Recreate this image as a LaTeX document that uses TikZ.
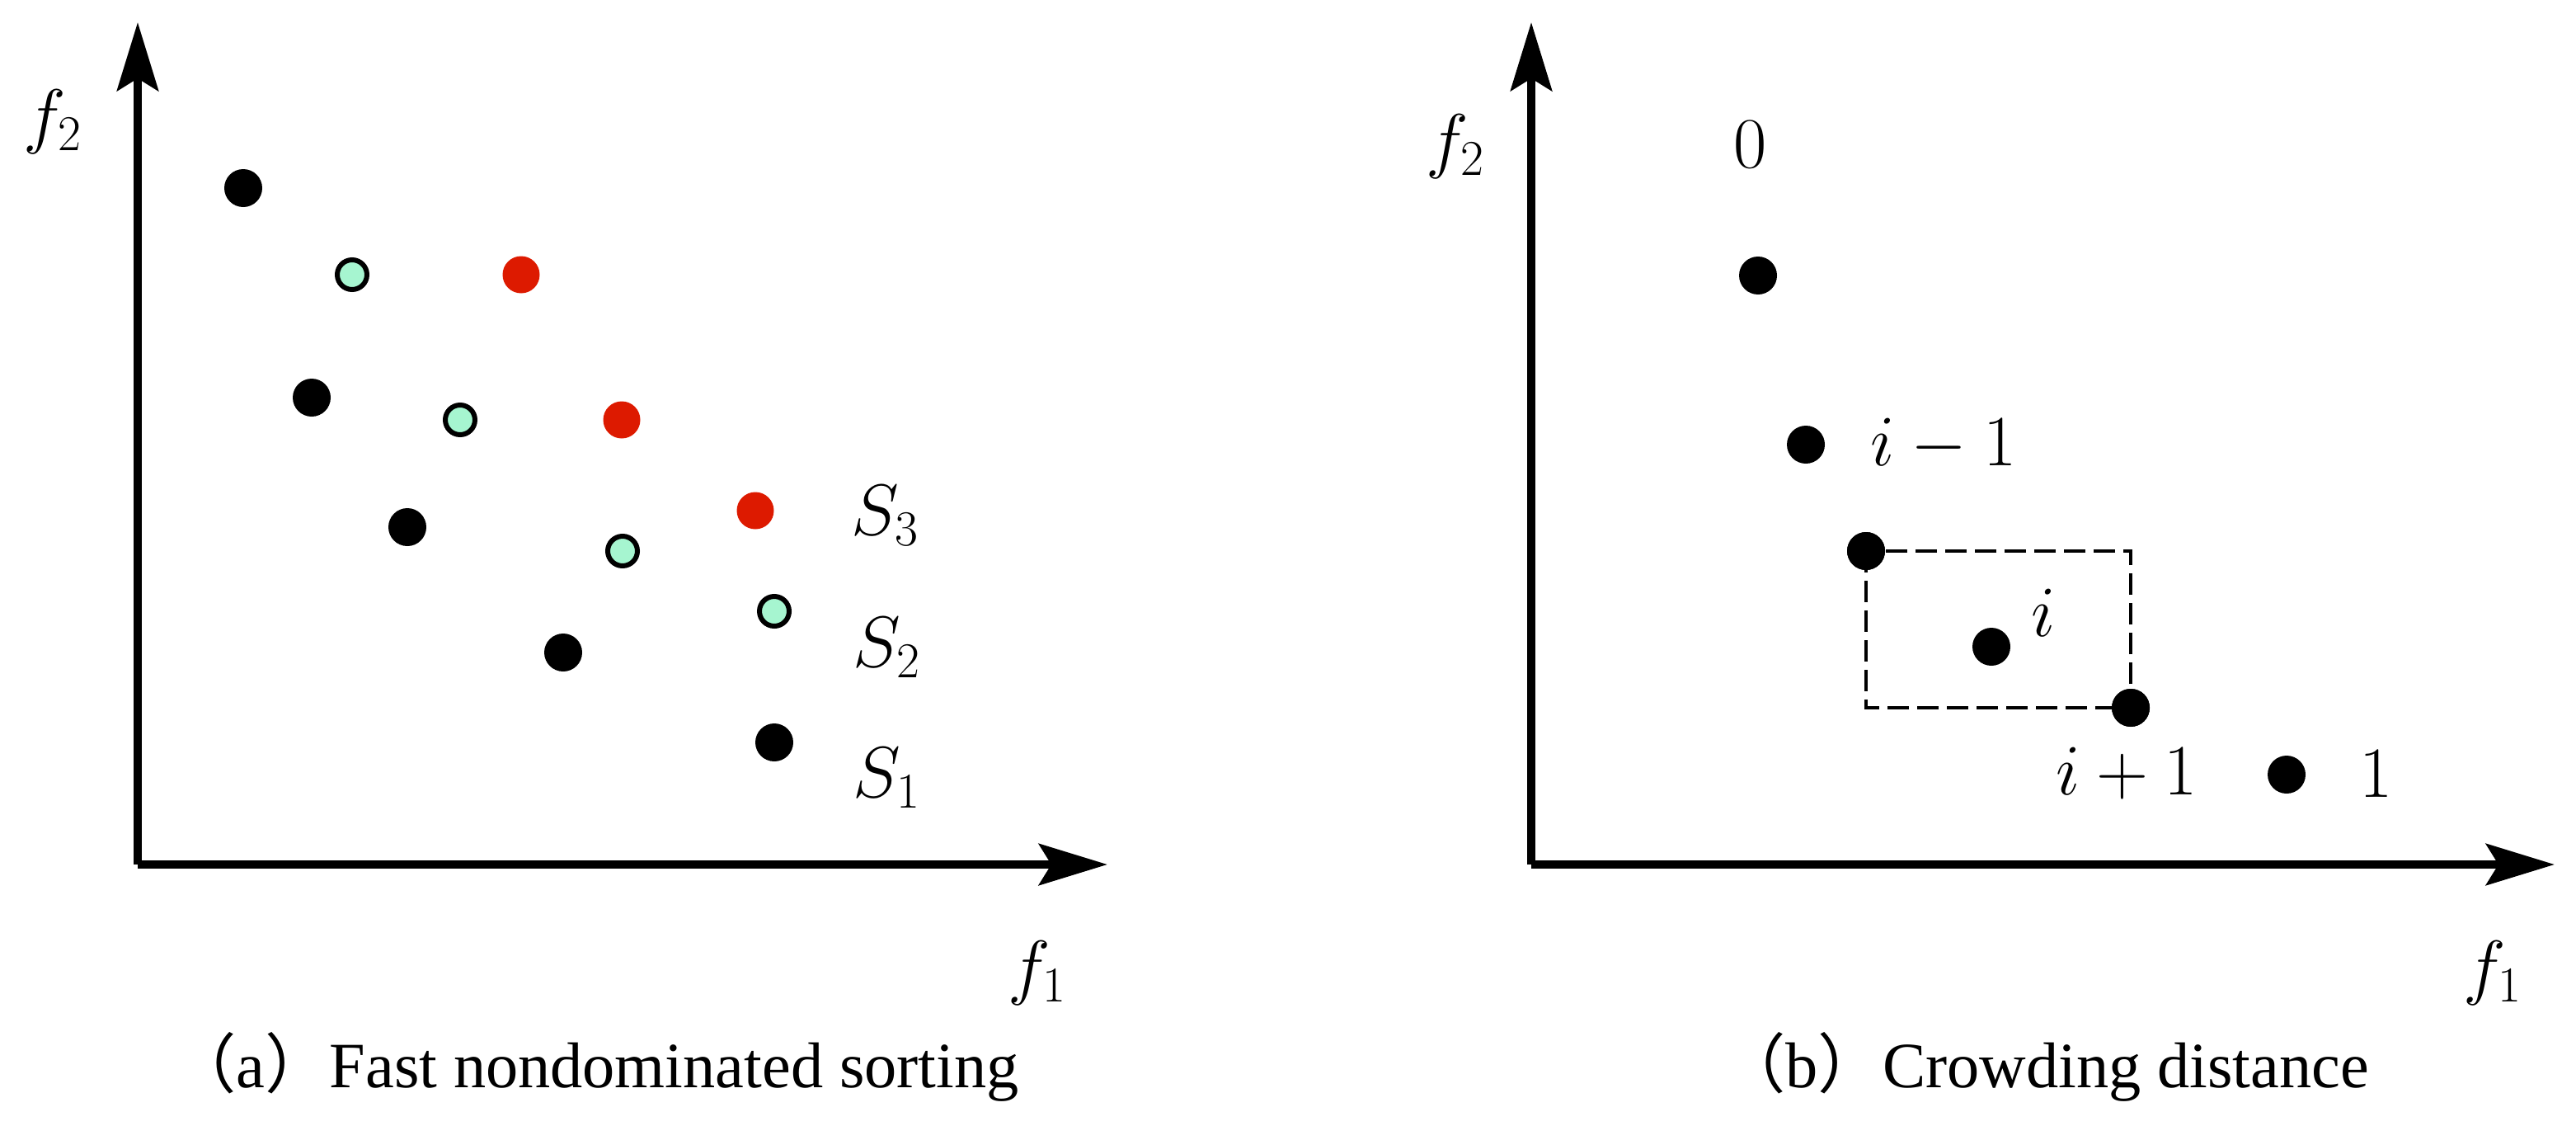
\documentclass[tikz,border=0pt]{standalone}
\usepackage{fontspec}
\newfontfamily\capfont{Liberation Serif}
\newfontfamily\cjk{Noto Sans CJK SC}
\usetikzlibrary{arrows.meta}
\definecolor{mint}{RGB}{166,245,208}
\definecolor{dotred}{RGB}{221,26,0}

\begin{document}
\begin{tikzpicture}[
    axis/.style={line width=0.1cm, -{Stealth[length=8.3mm, width=5mm, inset=1.5mm]}},
    blackdot/.style={shape=circle, fill=black, inner sep=0pt, minimum size=0.46cm},
    greendot/.style={shape=circle, draw=black, line width=0.06cm, fill=mint, inner sep=0pt, minimum size=0.36cm},
    reddot/.style={shape=circle, fill=dotred, inner sep=0pt, minimum size=0.45cm},
    lbl/.style={font=\fontsize{25}{30}\selectfont, inner sep=0pt},
    caption/.style={font=\capfont\fontsize{22.3}{26}\selectfont, inner sep=0pt},
    cdbox/.style={line width=0.04cm, dash pattern=on 0.26cm off 0.1cm}
]
    \useasboundingbox (0, 0) rectangle (31.24, 13.64);

    % (a) fast nondominated sorting
    \coordinate (Oa) at (1.67, 3.16);
    \coordinate (Ya) at (1.67, 13.37);
    \coordinate (Xa) at (13.43, 3.16);
    \draw[axis] (Oa) -- (Ya);
    \draw[axis] (Oa) -- (Xa);
    \node[lbl] (f2a) at (0.64, 12.16) {$f_2$};
    \node[lbl] (f1a) at (12.58, 1.84) {$f_1$};

    \node[blackdot] (P1) at (2.95, 11.36) {};
    \node[blackdot] (P2) at (3.78, 8.82) {};
    \node[blackdot] (P3) at (4.94, 7.25) {};
    \node[blackdot] (P4) at (6.83, 5.73) {};
    \node[blackdot] (P5) at (9.39, 4.64) {};

    \node[greendot] (Q1) at (4.27, 10.31) {};
    \node[greendot] (Q2) at (5.58, 8.55) {};
    \node[greendot] (Q3) at (7.55, 6.96) {};
    \node[greendot] (Q4) at (9.39, 6.23) {};

    \node[reddot] (R1) at (6.32, 10.31) {};
    \node[reddot] (R2) at (7.54, 8.55) {};
    \node[reddot] (R3) at (9.16, 7.45) {};

    \node[lbl] (S3) at (10.74, 7.39) {$S_3$};
    \node[lbl] (S2) at (10.76, 5.79) {$S_2$};
    \node[lbl] (S1) at (10.76, 4.21) {$S_1$};

    \node[caption] (capA) at (7.22, 0.71) {{\cjk （}a{\cjk ）}Fast nondominated sorting};

    % (b) crowding distance
    \coordinate (Ob) at (18.57, 3.16);
    \coordinate (Yb) at (18.57, 13.37);
    \coordinate (Xb) at (30.98, 3.16);
    \draw[axis] (Ob) -- (Yb);
    \draw[axis] (Ob) -- (Xb);
    \node[lbl] (f2b) at (17.65, 11.86) {$f_2$};
    \node[lbl] (f1b) at (30.23, 1.84) {$f_1$};

    \node[blackdot] (Z0) at (21.32, 10.30) {};
    \node[blackdot] (Zm) at (21.90, 8.25) {};
    \node[blackdot] (Za) at (22.63, 6.96) {};
    \node[blackdot] (Zi) at (24.15, 5.80) {};
    \node[blackdot] (Zb) at (25.84, 5.06) {};
    \node[blackdot] (Z1) at (27.73, 4.25) {};

    \draw[cdbox] (Za.center) rectangle (Zb.center);
    \node[blackdot] at (Za) {};
    \node[blackdot] at (Zb) {};

    \node[lbl] (L0) at (21.23, 11.89) {$0$};
    \node[lbl] (Lm) at (23.57, 8.25) {$i-1$};
    \node[lbl] (Li) at (24.78, 6.21) {$i$};
    \node[lbl] (Lp) at (25.79, 4.26) {$i+1$};
    \node[lbl] (L1) at (28.82, 4.26) {$1$};

    \node[caption] (capB) at (24.80, 0.71) {{\cjk （}b{\cjk ）}Crowding distance};
\end{tikzpicture}
\end{document}
